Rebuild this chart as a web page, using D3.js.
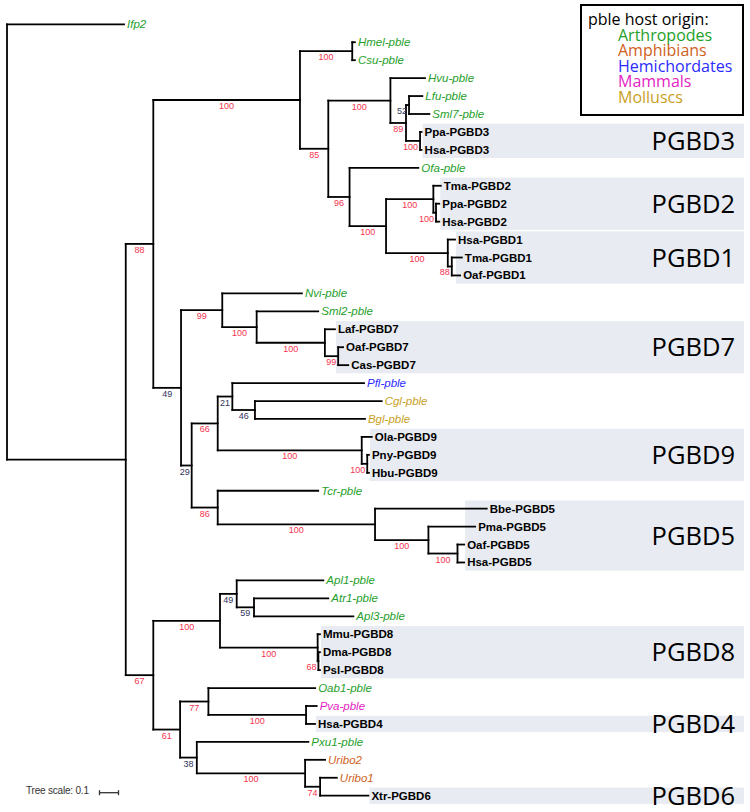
<!DOCTYPE html>
<html><head><meta charset="utf-8">
<script src="https://cdn.jsdelivr.net/npm/d3@7"></script>
<style>body{margin:0;background:#fff}svg{display:block}</style>
</head><body>
<script>
// ---- tree topology: node id, parent id, branch length (substitutions/site), bootstrap ----
const nodeIds = ["R","Ifp2","A","B","C","D","E","F","Hmel-pble","Csu-pble","G","H","Hvu-pble","J","K","Lfu-pble","Sml7-pble","L","Ppa-PGBD3","Hsa-PGBD3","I","Ofa-pble","M","N","Tma-PGBD2","P","Ppa-PGBD2","Hsa-PGBD2","O","Hsa-PGBD1","Q","Tma-PGBD1","Oaf-PGBD1","S","Nvi-pble","U","Sml2-pble","V","Laf-PGBD7","W","Oaf-PGBD7","Cas-PGBD7","T","X","Z","Pfl-pble","AB","Cgl-pble","Bgl-pble","AA","Ola-PGBD9","AC","Pny-PGBD9","Hbu-PGBD9","Y","Tcr-pble","AD","Bbe-PGBD5","AE","Pma-PGBD5","AF","Oaf-PGBD5","Hsa-PGBD5","AG","AI","Apl1-pble","AK","Atr1-pble","Apl3-pble","AJ","Mmu-PGBD8","AL","Dma-PGBD8","Psl-PGBD8","AH","AM","Oab1-pble","AO","Pva-pble","Hsa-PGBD4","AN","Pxu1-pble","AP","Uribo2","AQ","Uribo1","Xtr-PGBD6"];
const parentIds = [null,"R","R","A","A","B","B","D","F","F","D","G","H","H","J","K","K","J","L","L","G","I","I","M","N","N","P","P","M","O","O","Q","Q","E","S","S","U","U","V","V","W","W","E","T","X","Z","Z","AB","AB","X","AA","AA","AC","AC","T","Y","Y","AD","AD","AE","AE","AF","AF","C","AG","AI","AI","AK","AK","AG","AJ","AJ","AL","AL","C","AH","AM","AM","AO","AO","AH","AN","AN","AP","AP","AQ","AQ"];
const branchLengths = [0,0.616,0.625,0.145,0.145,0.772,0.146,0.275,0.014,0.014,0.149,0.327,0.182,0.082,0.016,0.070,0.107,0.074,0.008,0.008,0.112,0.362,0.192,0.249,0.039,0.014,0.017,0.017,0.325,0.038,0.021,0.053,0.044,0.217,0.419,0.181,0.324,0.359,0.053,0.070,0.026,0.053,0.056,0.137,0.077,0.693,0.119,0.667,0.579,0.758,0.053,0.029,0.009,0.009,0.137,0.529,0.828,0.588,0.281,0.246,0.153,0.035,0.035,0.351,0.088,0.456,0.091,0.391,0.523,0.514,0.012,0.004,0.008,0.008,0.141,0.149,0.562,0.514,0.056,0.047,0.088,0.587,0.570,0.105,0.079,0.088,0.254];
const bootstraps = [null,null,null,88,67,100,49,100,null,null,85,100,null,89,52,null,null,100,null,null,96,null,100,100,null,100,null,null,100,null,88,null,null,99,null,100,null,100,null,99,null,null,29,66,21,null,46,null,null,100,null,100,null,null,86,null,100,null,100,null,100,null,null,100,49,null,59,null,null,100,null,68,null,null,61,77,null,100,null,null,38,null,100,null,74,null,null];

// ---- leaves (top to bottom) and their host origin ----
const leafNames = ["Ifp2","Hmel-pble","Csu-pble","Hvu-pble","Lfu-pble","Sml7-pble","Ppa-PGBD3","Hsa-PGBD3","Ofa-pble","Tma-PGBD2","Ppa-PGBD2","Hsa-PGBD2","Hsa-PGBD1","Tma-PGBD1","Oaf-PGBD1","Nvi-pble","Sml2-pble","Laf-PGBD7","Oaf-PGBD7","Cas-PGBD7","Pfl-pble","Cgl-pble","Bgl-pble","Ola-PGBD9","Pny-PGBD9","Hbu-PGBD9","Tcr-pble","Bbe-PGBD5","Pma-PGBD5","Oaf-PGBD5","Hsa-PGBD5","Apl1-pble","Atr1-pble","Apl3-pble","Mmu-PGBD8","Dma-PGBD8","Psl-PGBD8","Oab1-pble","Pva-pble","Hsa-PGBD4","Pxu1-pble","Uribo2","Uribo1","Xtr-PGBD6"];
const leafHosts = ["Arthropodes","Arthropodes","Arthropodes","Arthropodes","Arthropodes","Arthropodes","PGBD","PGBD","Arthropodes","PGBD","PGBD","PGBD","PGBD","PGBD","PGBD","Arthropodes","Arthropodes","PGBD","PGBD","PGBD","Hemichordates","Molluscs","Molluscs","PGBD","PGBD","PGBD","Arthropodes","PGBD","PGBD","PGBD","PGBD","Arthropodes","Arthropodes","Arthropodes","PGBD","PGBD","PGBD","Arthropodes","Mammals","PGBD","Arthropodes","Amphibians","Amphibians","PGBD"];

// ---- legend ----
const legendTitle = "pble host origin:";
const hostNames = ["Arthropodes","Amphibians","Hemichordates","Mammals","Molluscs"];
const hostColors = ["#25a02a","#cf5f1c","#2b2bff","#e523c3","#c9a11e"];

// ---- clade ranges ----
const cladeNames = ["PGBD3","PGBD2","PGBD1","PGBD7","PGBD9","PGBD5","PGBD8","PGBD4","PGBD6"];
const cladeFirst = ["Ppa-PGBD3","Tma-PGBD2","Hsa-PGBD1","Laf-PGBD7","Ola-PGBD9","Bbe-PGBD5","Mmu-PGBD8","Hsa-PGBD4","Xtr-PGBD6"];
const cladeLast  = ["Hsa-PGBD3","Hsa-PGBD2","Oaf-PGBD1","Cas-PGBD7","Hbu-PGBD9","Hsa-PGBD5","Psl-PGBD8","Hsa-PGBD4","Xtr-PGBD6"];

const scaleBarValue = 0.1;

// ---- build ----
const W = 750, H = 812;
const svg = d3.select("body").append("svg").attr("width", W).attr("height", H);

const rows = nodeIds.map((id, i) => ({id, parent: parentIds[i], len: branchLengths[i], bs: bootstraps[i]}));
const root = d3.stratify().id(d => d.id).parentId(d => d.parent)(rows);
root.eachBefore(n => { n.dist = n.parent ? n.parent.dist + n.data.len : 0; });

const xScale = d3.scaleLinear().domain([0, 1]).range([7, 197]);
const yScale = d3.scaleLinear().domain([0, leafNames.length - 1]).range([24.3, 795.7]);
const step = yScale(1) - yScale(0);

root.eachAfter(n => {
  if (!n.children) n.y = yScale(leafNames.indexOf(n.id));
  else n.y = (n.children[0].y + n.children[n.children.length - 1].y) / 2;
  n.x = xScale(n.dist);
});
const nodeById = new Map(root.descendants().map(n => [n.id, n]));

// clade boxes
const gBox = svg.append("g");
cladeNames.forEach((name, i) => {
  const a = leafNames.indexOf(cladeFirst[i]), b = leafNames.indexOf(cladeLast[i]);
  const members = leafNames.slice(a, b + 1).map(id => nodeById.get(id));
  const x0 = d3.min(members, m => m.x) + 1;
  const y0 = yScale(a) - step / 2 + 0.8, y1 = yScale(b) + step / 2 - 0.8;
  gBox.append("rect").attr("x", x0).attr("y", y0).attr("width", 744 - x0).attr("height", y1 - y0)
    .attr("fill", "#e8ebf1");
  gBox.append("text").attr("x", 735).attr("y", (y0 + y1) / 2 + 9)
    .attr("text-anchor", "end").attr("font-family", "'Open Sans', sans-serif")
    .attr("font-size", 25.5).attr("fill", "#000").text(name);
});

// branches
const gTree = svg.append("g").attr("fill", "none").attr("stroke", "#000").attr("stroke-width", 1.8).attr("stroke-linecap", "square");
root.descendants().forEach(n => {
  if (n.parent) gTree.append("line").attr("x1", n.parent.x).attr("x2", n.x).attr("y1", n.y).attr("y2", n.y);
  if (n.children) {
    gTree.append("line").attr("x1", n.x).attr("x2", n.x)
      .attr("y1", n.children[0].y).attr("y2", n.children[n.children.length - 1].y);
  }
});

// bootstrap labels: centred on the branch, kept left of the child node on short branches
const gBs = svg.append("g").attr("font-family", "'Liberation Sans', Arial, sans-serif").attr("font-size", 9).attr("text-anchor", "middle");
root.descendants().forEach(n => {
  if (n.parent && n.data.bs != null) {
    const t = gBs.append("text").attr("y", n.y + 9)
      .attr("fill", n.data.bs >= 60 ? "#f5334e" : "#30335a").text(n.data.bs);
    const w = t.node().getComputedTextLength();
    const mid = (n.parent.x + n.x) / 2;
    t.attr("x", Math.min(mid, n.x - w / 2 - 2));
  }
});

// leaf labels
const hostColor = d3.scaleOrdinal().domain(hostNames).range(hostColors);
const gLeaf = svg.append("g").attr("font-family", "'Liberation Sans', Arial, sans-serif").attr("font-size", 11.5);
leafNames.forEach((name, i) => {
  const n = nodeById.get(name);
  const isP = leafHosts[i] === "PGBD";
  gLeaf.append("text").attr("x", n.x + 3).attr("y", n.y + 4)
    .attr("font-style", isP ? "normal" : "italic")
    .attr("font-weight", isP ? "bold" : "normal")
    .attr("fill", isP ? "#000" : hostColor(leafHosts[i])).text(name);
});

// legend (one text block)
const gLeg = svg.append("g").attr("font-family", "'Open Sans', sans-serif").attr("font-size", 16);
gLeg.append("rect").attr("x", 581).attr("y", 5).attr("width", 162).attr("height", 110)
  .attr("fill", "#fff").attr("stroke", "#000").attr("stroke-width", 2);
const legText = gLeg.append("text").attr("x", 588).attr("y", 25);
legText.append("tspan").attr("x", 588).attr("y", 25).attr("fill", "#000").text(legendTitle);
hostNames.forEach((h, i) => {
  legText.append("tspan").attr("x", 618).attr("y", 40.5 + i * 15.6).attr("fill", hostColors[i]).text(h);
});

// tree scale
const gSc = svg.append("g");
gSc.append("text").attr("x", 26).attr("y", 794).attr("font-family", "'Liberation Sans', Arial, sans-serif")
  .attr("font-size", 10).attr("fill", "#333").attr("letter-spacing", -0.2).text("Tree scale: " + scaleBarValue);
const sx0 = 99.5, sx1 = sx0 + (xScale(scaleBarValue) - xScale(0)), sy = 792.7;
gSc.append("line").attr("x1", sx0).attr("x2", sx1).attr("y1", sy).attr("y2", sy).attr("stroke", "#333").attr("stroke-width", 1.3);
[sx0, sx1].forEach(x => gSc.append("line").attr("x1", x).attr("x2", x).attr("y1", sy - 2.5).attr("y2", sy + 2.5).attr("stroke", "#333").attr("stroke-width", 1.3));
</script>
</body></html>
